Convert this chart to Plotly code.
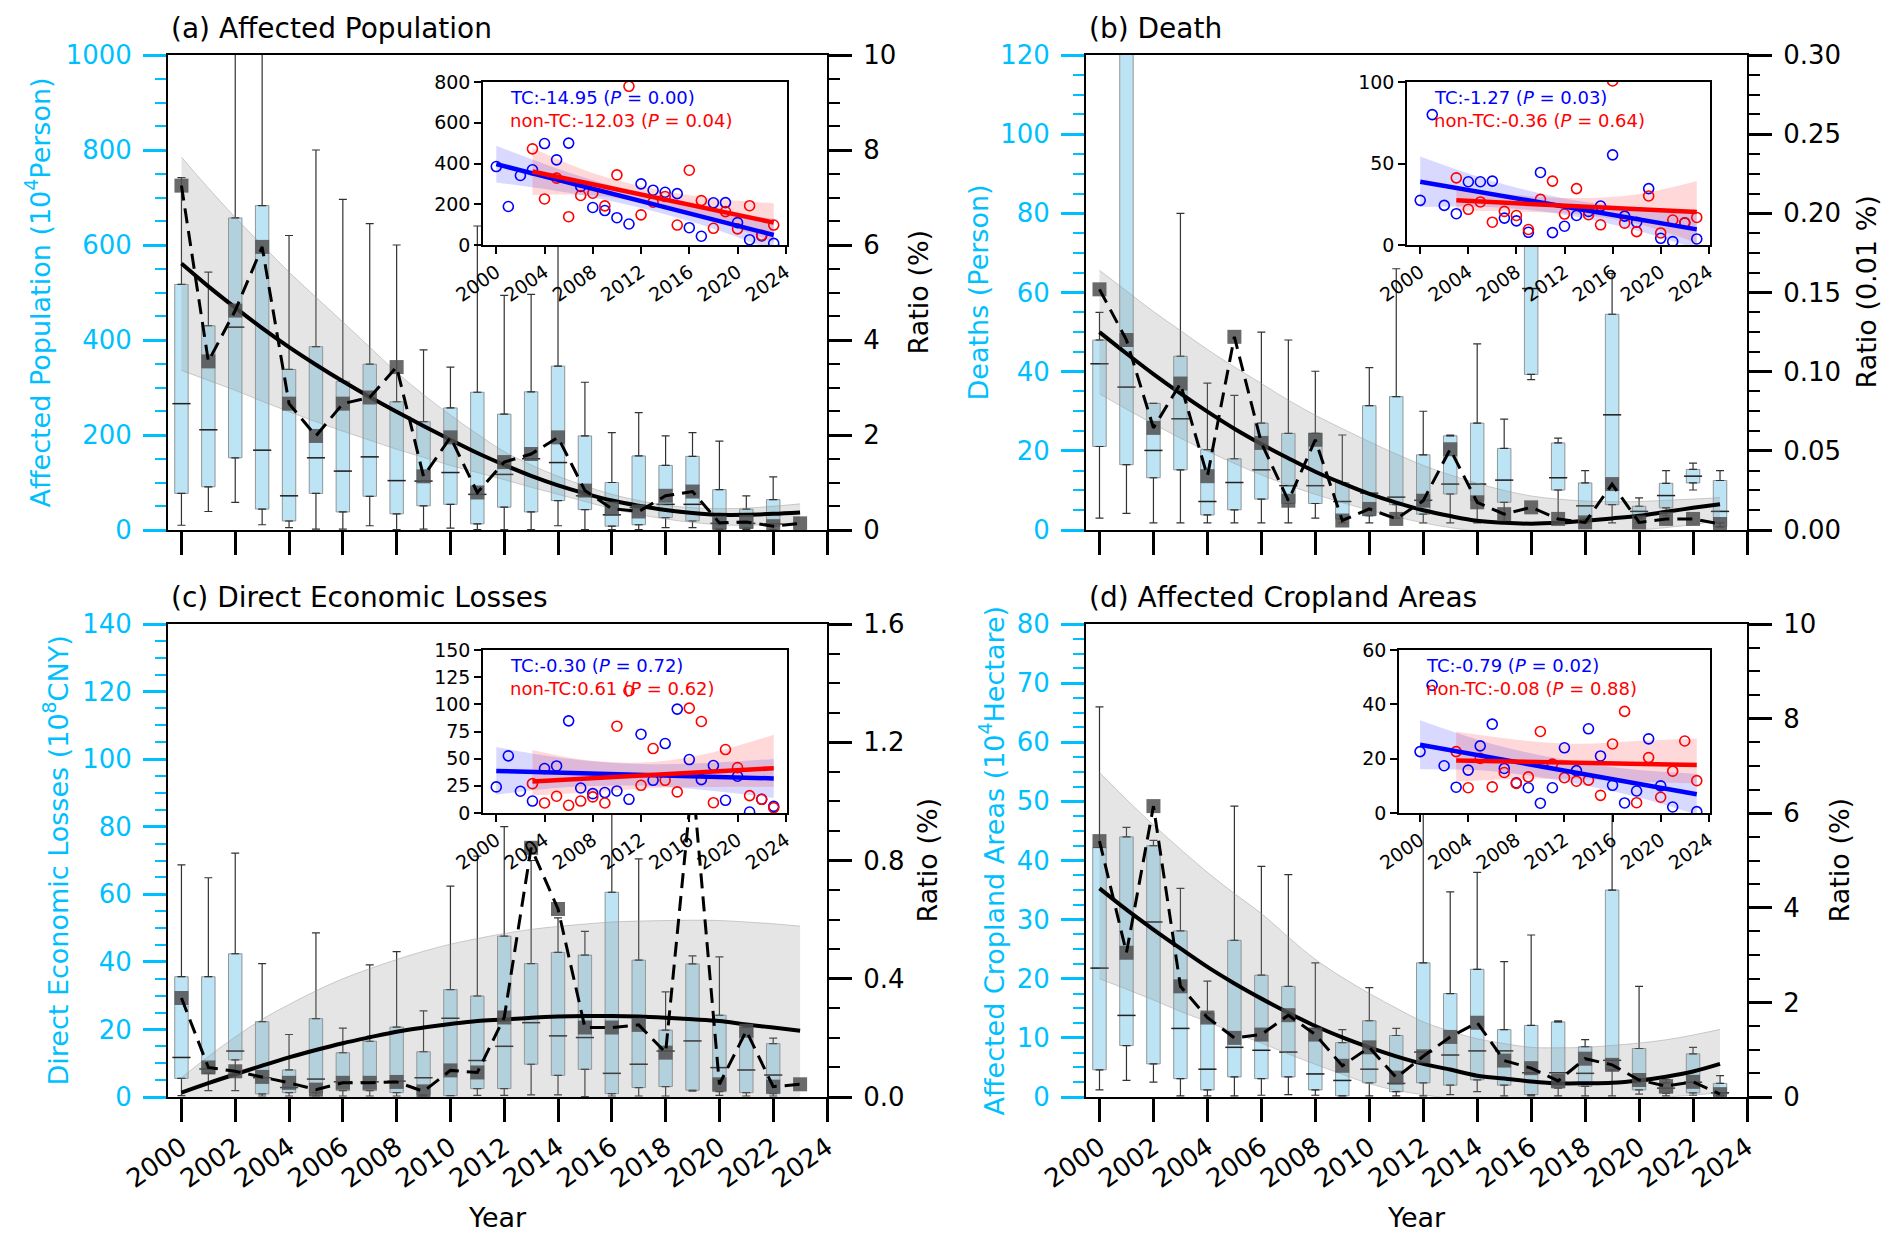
import plotly.graph_objects as go

W, H = 1892, 1244          # target canvas
PAGE_PAD = 8                # the page body margin the figure sits in
FIG_W, FIG_H = W - 2 * PAGE_PAD, H - 2 * PAGE_PAD

years = list(range(2000, 2024))
box_years_23 = list(range(2000, 2023))
box_years_24 = list(range(2000, 2024))
ntc_years = list(range(2003, 2024))

# ---------------- (a) Affected Population (10^4 person), ratio in % ----------------
a_low = [10, 39, 58, 11, 5, 2, 2, 9, 1, 2, 4, 1, 1, 1, 9, 1, 1, 1, 5, 5, 1, 1, 1]
a_q1 = [77, 91, 152, 44, 19, 77, 38, 71, 34, 51, 54, 13, 48, 38, 62, 43, 8, 11, 26, 19, 2, 4, 8]
a_med = [266, 211, 427, 168, 72, 152, 124, 154, 104, 103, 121, 75, 117, 150, 142, 72, 32, 47, 54, 54, 14, 14, 13]
a_q3 = [517, 430, 657, 683, 338, 386, 313, 349, 270, 228, 257, 290, 244, 291, 345, 198, 100, 156, 136, 155, 85, 44, 64]
a_high = [742, 543, 1100, 1100, 620, 800, 696, 645, 600, 379, 343, 640, 494, 496, 650, 311, 205, 247, 198, 205, 187, 72, 112]
a_ratio = [7.25, 3.55, 4.62, 5.96, 2.66, 1.98, 2.66, 2.79, 3.43, 1.13, 1.95, 0.79, 1.43, 1.60,
           1.95, 0.83, 0.45, 0.39, 0.72, 0.81, 0.15, 0.17, 0.08, 0.14]
a_fit = [5.61, 5.13, 4.68, 4.25, 3.85, 3.48, 3.13, 2.80, 2.49, 2.19, 1.90, 1.62, 1.37, 1.14,
         0.94, 0.77, 0.62, 0.51, 0.42, 0.36, 0.32, 0.32, 0.34, 0.37]
a_band_hi = [7.85, 7.20, 6.58, 6.00, 5.43, 4.90, 4.38, 3.85, 3.32, 2.85, 2.42, 2.02, 1.65, 1.37,
             1.13, 0.93, 0.75, 0.62, 0.52, 0.47, 0.45, 0.46, 0.50, 0.55]
a_band_lo = [3.36, 3.15, 2.94, 2.71, 2.49, 2.28, 2.08, 1.89, 1.70, 1.53, 1.36, 1.21, 1.06, 0.90,
             0.75, 0.60, 0.45, 0.33, 0.23, 0.16, 0.11, 0.10, 0.12, 0.15]

# ---------------- (b) Death (person), ratio in 0.01 % ----------------
b_low = [3.0, 4.2, 1.8, 1.8, 1.8, 1.8, 1.8, 1.8, 3.0, 1.8, 1.8, 3.0, 1.8, 1.8, 1.8, 1.8, 38, 1.8, 1.8, 1.8, 1.8, 3.6, 10.1, 1.8]
b_q1 = [21.1, 16.5, 13.2, 15.2, 3.8, 5.1, 7.8, 6.7, 6.7, 2.8, 3.6, 6.4, 4.0, 9.1, 7.4, 7.0, 39.3, 10.1, 2.8, 6.4, 2.8, 5.6, 11.9, 0.8]
b_med = [42, 36.1, 20.1, 28.1, 7.2, 12, 15.2, 11.2, 11.2, 7.2, 9.3, 8.3, 7.5, 11.6, 11.6, 12.6, 61, 13.2, 6.1, 29.1, 4.7, 8.7, 13.6, 4.7]
b_q3 = [48.0, 130, 32, 43.9, 20.3, 18, 27, 24.4, 24.4, 12, 31.4, 33.7, 19, 23.8, 27, 20.6, 85, 22, 11.9, 54.5, 6, 11.8, 15.3, 12.5]
b_high = [55, 140, 32, 80, 37.1, 34, 50, 48, 40.1, 24, 41, 66, 30, 24, 47, 28, 100, 23.2, 15, 64.8, 8.1, 15, 16.9, 15]
b_ratio = [0.152, 0.120, 0.0645, 0.0925, 0.034, 0.122, 0.055, 0.0185, 0.057, 0.006, 0.0133, 0.007,
           0.0185, 0.051, 0.0175, 0.010, 0.0143, 0.007, 0.0048, 0.029, 0.0048, 0.007, 0.007, 0.0038]
b_fit = [0.125, 0.1115, 0.0985, 0.0863, 0.0748, 0.064, 0.0543, 0.0453, 0.0368, 0.0295, 0.0228, 0.0173,
         0.0125, 0.0088, 0.0058, 0.0045, 0.004, 0.0045, 0.0058, 0.0073, 0.009, 0.0115, 0.014, 0.0163]
b_band_hi = [0.164, 0.151, 0.138, 0.126, 0.114, 0.103, 0.0925, 0.082, 0.0725, 0.064, 0.0558, 0.048,
             0.0408, 0.0348, 0.0295, 0.025, 0.0215, 0.0195, 0.0183, 0.0178, 0.018, 0.0188, 0.0195, 0.0205]
b_band_lo = [0.086, 0.0763, 0.067, 0.058, 0.0498, 0.042, 0.0348, 0.0283, 0.0225, 0.0173, 0.0125, 0.0083,
             0.0045, 0.0015, -0.0008, -0.002, -0.0025, -0.0023, -0.0015, -0.0008, 0.0, 0.0015, 0.0035, 0.0058]

# ---------------- (c) Direct Economic Losses (10^8 CNY), ratio in % ----------------
c_low = [0.4, 1.9, 1.9, 0.3, 0.3, 0.3, 0.3, 0.3, 0.3, 0.3, 0.4, 0.5, 0.5, 0.6, 0.6, 0.1, 0.3, 0.3, 0.3, 1.7, 0.5, 0.3, 0.3]
c_q1 = [5.5, 7, 11, 0.9, 1.3, 1.3, 1.9, 1.9, 1.3, 0.6, 0.4, 2.5, 2.5, 9.7, 6.4, 8.2, 1.0, 2.8, 3.1, 2.0, 1.6, 1.3, 1.0]
c_med = [11.7, 8.3, 13.6, 5.7, 2.8, 5.3, 4.5, 4.5, 4.7, 5.7, 23.3, 10.8, 15, 22, 18.1, 17.6, 7.0, 9.7, 13.6, 16.6, 8.7, 8.0, 6.5]
c_q3 = [35.6, 35.6, 42.4, 22.3, 8, 23.2, 13.1, 16.5, 20.7, 13.4, 31.8, 29.9, 47.6, 39.5, 42.8, 42, 60.6, 40.5, 19.8, 39.4, 24.2, 20.6, 15.8]
c_high = [68.7, 64.9, 72.2, 39.5, 18.5, 48.6, 20.4, 39.1, 43, 25.5, 62.4, 71.3, 80, 70, 53, 49, 95, 70.5, 31.1, 41.8, 41.5, 21, 17.4]
c_ratio = [0.335, 0.10, 0.087, 0.068, 0.048, 0.025, 0.048, 0.048, 0.051, 0.019, 0.09, 0.083, 0.269,
           0.843, 0.636, 0.235, 0.235, 0.244, 0.150, 1.08, 0.043, 0.224, 0.035, 0.043]
c_fit = [0.015, 0.047, 0.077, 0.106, 0.134, 0.159, 0.182, 0.202, 0.221, 0.235, 0.247, 0.257,
         0.262, 0.268, 0.272, 0.274, 0.274, 0.272, 0.268, 0.263, 0.257, 0.245, 0.235, 0.224]
c_band_hi = [0.065, 0.137, 0.203, 0.263, 0.313, 0.359, 0.40, 0.434, 0.465, 0.493, 0.517, 0.536,
             0.553, 0.567, 0.577, 0.585, 0.592, 0.595, 0.597, 0.598, 0.597, 0.592, 0.586, 0.578]
c_band_lo = [-0.035, -0.04, -0.045, -0.05, -0.055, -0.06, -0.065, -0.07, -0.075, -0.08, -0.085, -0.09,
             -0.09, -0.09, -0.09, -0.09, -0.09, -0.09, -0.09, -0.09, -0.09, -0.09, -0.09, -0.09]

# ---------------- (d) Affected Cropland Areas (10^4 hectare), ratio in % ----------------
d_low = [1.2, 2.8, 2.5, 0.2, 0.2, 0.2, 0.3, 0.4, 0.3, 0.2, 0.2, 0.2, 0.2, 0.4, 0.9, 0.2, 0.2, 0.2, 0.2, 0.2, 0.5, 0.2, 0.3, 0.2]
d_q1 = [4.6, 8.7, 5.6, 3.1, 1.2, 3.4, 3.1, 3.4, 1.2, 0.2, 2.4, 0.9, 2.4, 2.0, 2.9, 2.0, 0.4, 1.5, 1.8, 4.6, 1.2, 0.6, 0.7, 0.3]
d_med = [21.8, 13.8, 29.6, 11.6, 4.7, 8.4, 7.9, 7.6, 3.9, 2.8, 4.7, 2.3, 7.6, 7.1, 7.8, 7.8, 4.1, 4.1, 4.0, 6.2, 2.7, 1.5, 2.5, 0.7]
d_q3 = [42.2, 44, 42.5, 28.1, 14.2, 26.5, 20.6, 18.7, 11.6, 9.2, 12.9, 10.4, 22.7, 17.5, 21.6, 11.4, 12.1, 12.7, 8.5, 35, 8.2, 2.4, 7.3, 2.3]
d_high = [66, 45.6, 43.4, 35.3, 19.6, 49.2, 39, 37.6, 22.7, 11.4, 18.5, 11.6, 55, 34.7, 38, 22.9, 27.4, 12.9, 9.7, 55, 18.7, 3.0, 8.4, 3.6]
d_ratio = [5.41, 3.05, 6.15, 2.34, 1.68, 1.25, 1.32, 1.73, 1.32, 0.66, 1.05, 0.41, 0.86, 1.27,
           1.57, 0.77, 0.61, 0.34, 0.81, 0.68, 0.36, 0.23, 0.32, 0.06]
d_fit = [4.41, 3.96, 3.54, 3.14, 2.75, 2.40, 2.08, 1.78, 1.50, 1.26, 1.05, 0.86, 0.70, 0.58,
         0.45, 0.39, 0.33, 0.29, 0.29, 0.30, 0.35, 0.43, 0.54, 0.70]
d_band_hi = [6.86, 6.29, 5.75, 5.24, 4.75, 4.30, 3.88, 3.38, 2.91, 2.53, 2.19, 1.88, 1.59, 1.39,
             1.23, 1.13, 1.05, 1.04, 1.05, 1.09, 1.14, 1.21, 1.31, 1.43]
d_band_lo = [2.50, 2.28, 2.05, 1.81, 1.59, 1.36, 1.14, 0.91, 0.69, 0.48, 0.28, 0.14, 0.05, -0.03,
             -0.06, -0.09, -0.10, -0.10, -0.09, -0.06, -0.04, 0.0, 0.04, 0.09]

# ---------------- insets: TC (2000-2023) and non-TC (2003-2023) ----------------
ia_tc = [385, 189, 341, 369, 498, 418, 500, 287, 184, 169, 134, 103, 300, 269, 259, 252, 85, 43, 207, 208, 110, 26, 45, 8]
ia_ntc = [472, 226, 328, 139, 243, 254, 192, 344, 779, 148, 210, 238, 98, 367, 218, 82, 164, 79, 193, 48, 98]
ib_tc = [27.4, 80, 24.3, 19.2, 38.8, 38.8, 39.2, 16.5, 14.8, 7.8, 44.5, 7.6, 11.5, 18.1, 20.6, 23.9, 55.3, 17.7, 14, 34.6, 4.1, 2.1, 13.6, 3.7]
ib_ntc = [41.2, 21.9, 26.4, 14, 20.6, 18.1, 9.5, 28, 39.2, 19, 34.6, 18.6, 12.4, 100.6, 13.4, 8.2, 30.1, 7.4, 15.3, 13.6, 16.9]
ic_tc = [24, 52.6, 20, 11, 40.9, 43.3, 84.8, 23, 17.8, 18.8, 20.3, 12.6, 72.5, 30.1, 63.9, 95.6, 49.2, 30.7, 43.7, 11.7, 33.8, 0.9, 12.6, 6.1]
ic_ntc = [27, 9.2, 15.4, 7.1, 11, 14.8, 9.2, 79.9, 112.5, 25.5, 59.3, 30.1, 19.4, 96.5, 84.2, 9.5, 58.4, 41.8, 16, 12.6, 4.9]
id_tc = [22.6, 47, 17.4, 9.5, 15.8, 24.7, 32.7, 16.4, 11.1, 9.3, 3.6, 9.3, 24, 15.6, 31, 21, 10.2, 3.7, 8.1, 27.3, 10, 2.2, None, 0.5]
id_ntc = [22.6, 9.3, 20.1, 9.6, 14.9, 10.9, 13.3, 30, 18, 13, 11.7, 12.1, 6.5, 25.4, 37.4, 3.8, 20.4, 5.8, 15.4, 26.5, 11.9]

# regression line end values
tc_line_years = [2000, 2023]
ntc_line_years = [2003, 2023]
ia_tc_line, ia_ntc_line = [397, 49], [361, 110]
ib_tc_line, ib_ntc_line = [38.8, 9.6], [27.4, 20.2]
ic_tc_line, ic_ntc_line = [38.7, 31.8], [29, 41.2]
id_tc_line, id_ntc_line = [25.1, 6.9], [19.3, 17.7]

# confidence bands of the regressions
tc_band_years = [2000, 2006, 2012, 2018, 2023]
ntc_band_years = [2003, 2008, 2013, 2018, 2023]
ia_tc_hi, ia_tc_lo = [487, 356, 251, 170, 130], [307, 256, 181, 80, -30]
ia_ntc_hi, ia_ntc_lo = [476, 353, 276, 228, 205], [246, 243, 196, 118, 15]
ib_tc_hi, ib_tc_lo = [54.3, 39.2, 28.6, 22.9, 21.6], [23.3, 23.2, 18.6, 8.9, -2.4]
ib_ntc_hi, ib_ntc_lo = [33.8, 30.6, 28.8, 31, 39.2], [21, 20.6, 18.8, 13, 1.2]
ic_tc_hi, ic_tc_lo = [60.7, 49.9, 45.1, 46.3, 49.8], [16.7, 23.9, 25.1, 20.3, 13.8]
ic_ntc_hi, ic_ntc_lo = [58, 48, 47, 56, 72], [16, 19, 23, 24, 24]
id_tc_hi, id_tc_lo = [34.1, 25.4, 19.6, 15.9, 14.4], [16.1, 15.4, 11.6, 5.9, -0.6]
id_ntc_hi, id_ntc_lo = [30, 27, 25.5, 26.5, 27.4], [11.5, 12.5, 12.5, 11.5, 10.9]

titles = ['(a) Affected Population', '(b) Death', '(c) Direct Economic Losses', '(d) Affected Cropland Areas']
left_titles = ['Affected Population (10<sup>4</sup>Person)', 'Deaths (Person)',
               'Direct Economic Losses (10<sup>8</sup>CNY)', 'Affected Cropland Areas (10<sup>4</sup>Hectare)']
right_titles = ['Ratio (%)', 'Ratio (0.01 %)', 'Ratio (%)', 'Ratio (%)']
tc_texts = ['TC:-14.95 (<i>P</i> = 0.00)', 'TC:-1.27 (<i>P</i> = 0.03)',
            'TC:-0.30 (<i>P</i> = 0.72)', 'TC:-0.79 (<i>P</i> = 0.02)']
ntc_texts = ['non-TC:-12.03 (<i>P</i> = 0.04)', 'non-TC:-0.36 (<i>P</i> = 0.64)',
             'non-TC:0.61 (<i>P</i> = 0.62)', 'non-TC:-0.08 (<i>P</i> = 0.88)']

# ---------------- styling / geometry (pixels of the 1892x1244 canvas) ----------------
FONT = 'DejaVu Sans'
CYAN = '#00BFFF'
BOX_FILL = 'rgba(135,206,235,0.55)'
BOX_EDGE = 'rgba(120,120,120,0.75)'
WHISK = '#333333'
SQ = 'rgba(80,80,80,0.85)'
BAND_FILL = 'rgba(150,150,150,0.25)'
BAND_EDGE = 'rgba(150,150,150,0.45)'

MAIN_X = [(168, 827), (1086, 1747), (168, 827), (1086, 1747)]
MAIN_Y = [(55, 530), (55, 530), (624, 1097), (624, 1097)]
INSET_X = [(483, 787), (1407, 1710), (483, 787), (1399, 1710)]
INSET_Y = [(82, 245), (82, 245), (650, 813), (650, 813)]
INSET_XR = [[1998.9, 2024.1], [1998.9, 2024.1], [1998.9, 2024.1], [1998.25, 2024.1]]

LEFT_R = [[0, 1000], [0, 120], [0, 140], [0, 80]]
LEFT_DT = [200, 20, 20, 10]
LEFT_MINOR = [50, 5, 5, 2.5]
RIGHT_R = [[0, 10], [0, 0.30], [0, 1.6], [0, 10]]
RIGHT_DT = [2, 0.05, 0.4, 2]
RIGHT_MINOR = [0.5, 0.0125, 0.1, 0.5]
RIGHT_FMT = ['d', '.2f', '.1f', 'd']
INSET_YR = [[0, 800], [0, 100], [0, 150], [0, 60]]
INSET_DT = [200, 50, 25, 20]

LEFT_TX = [38, 978, 56, 992]
RIGHT_TX = [918, 1866, 927, 1839]


def fx(p):
    return (p - PAGE_PAD) / FIG_W


def fy(p):
    return 1 - (p - PAGE_PAD) / FIG_H


def ax(name, i):
    return name if i == 1 else f'{name}{i}'


fig = go.Figure()

panels = [
    (box_years_23, a_low, a_q1, a_med, a_q3, a_high, a_ratio, a_fit, a_band_lo, a_band_hi),
    (box_years_24, b_low, b_q1, b_med, b_q3, b_high, b_ratio, b_fit, b_band_lo, b_band_hi),
    (box_years_23, c_low, c_q1, c_med, c_q3, c_high, c_ratio, c_fit, c_band_lo, c_band_hi),
    (box_years_24, d_low, d_q1, d_med, d_q3, d_high, d_ratio, d_fit, d_band_lo, d_band_hi),
]

for i, (bx, low, q1, med, q3, high, ratio, fit, blo, bhi) in enumerate(panels, start=1):
    xa, ya, yr = ax('x', i), ax('y', i), f'y{i + 4}'
    common = dict(xaxis=xa, showlegend=False, hoverinfo='skip')

    # whiskers as error bars from the box edges
    fig.add_trace(go.Scatter(
        x=bx, y=q3, mode='markers', marker=dict(size=1, opacity=0), yaxis=ya,
        error_y=dict(type='data', symmetric=False, array=[h - q for h, q in zip(high, q3)],
                     arrayminus=[0] * len(bx), color=WHISK, thickness=1.2, width=4),
        **common))
    fig.add_trace(go.Scatter(
        x=bx, y=q1, mode='markers', marker=dict(size=1, opacity=0), yaxis=ya,
        error_y=dict(type='data', symmetric=False, array=[0] * len(bx),
                     arrayminus=[q - l for q, l in zip(q1, low)], color=WHISK, thickness=1.2, width=4),
        **common))
    # boxes
    fig.add_trace(go.Box(
        x=bx, q1=q1, median=med, q3=q3, lowerfence=q1, upperfence=q3,
        width=0.5, fillcolor=BOX_FILL, line=dict(color=BOX_EDGE, width=1),
        boxpoints=False, yaxis=ya, **common))
    # medians
    fig.add_trace(go.Scatter(
        x=bx, y=med, mode='markers', yaxis=ya,
        marker=dict(symbol='line-ew', size=13, line=dict(color='#222222', width=1.5)),
        **common))

    # quadratic fit and its confidence band (ratio axis)
    fig.add_trace(go.Scatter(x=years, y=blo, mode='lines', yaxis=yr,
                             line=dict(color=BAND_EDGE, width=1, shape='spline'), **common))
    fig.add_trace(go.Scatter(x=years, y=bhi, mode='lines', yaxis=yr, fill='tonexty',
                             fillcolor=BAND_FILL,
                             line=dict(color=BAND_EDGE, width=1, shape='spline'), **common))
    fig.add_trace(go.Scatter(x=years, y=fit, mode='lines', yaxis=yr,
                             line=dict(color='black', width=4, shape='spline'), **common))
    # ratio series
    fig.add_trace(go.Scatter(x=years, y=ratio, mode='markers', yaxis=yr,
                             marker=dict(symbol='square', size=14, color=SQ), **common))
    fig.add_trace(go.Scatter(x=years, y=ratio, mode='lines', yaxis=yr,
                             line=dict(color='black', width=3, dash='15px,8px'), **common))

insets = [
    (ia_tc, ia_ntc, ia_tc_line, ia_ntc_line, ia_tc_hi, ia_tc_lo, ia_ntc_hi, ia_ntc_lo),
    (ib_tc, ib_ntc, ib_tc_line, ib_ntc_line, ib_tc_hi, ib_tc_lo, ib_ntc_hi, ib_ntc_lo),
    (ic_tc, ic_ntc, ic_tc_line, ic_ntc_line, ic_tc_hi, ic_tc_lo, ic_ntc_hi, ic_ntc_lo),
    (id_tc, id_ntc, id_tc_line, id_ntc_line, id_tc_hi, id_tc_lo, id_ntc_hi, id_ntc_lo),
]

for i, (tc, ntc, tcl, ntcl, tch, tcl_lo, ntch, ntcl_lo) in enumerate(insets, start=1):
    common = dict(xaxis=f'x{i + 4}', yaxis=f'y{i + 8}', showlegend=False, hoverinfo='skip')
    fig.add_trace(go.Scatter(x=tc_band_years, y=tcl_lo, mode='lines',
                             line=dict(width=0, shape='spline'), **common))
    fig.add_trace(go.Scatter(x=tc_band_years, y=tch, mode='lines', fill='tonexty',
                             fillcolor='rgba(0,0,255,0.15)', line=dict(width=0, shape='spline'), **common))
    fig.add_trace(go.Scatter(x=ntc_band_years, y=ntcl_lo, mode='lines',
                             line=dict(width=0, shape='spline'), **common))
    fig.add_trace(go.Scatter(x=ntc_band_years, y=ntch, mode='lines', fill='tonexty',
                             fillcolor='rgba(255,0,0,0.15)', line=dict(width=0, shape='spline'), **common))
    fig.add_trace(go.Scatter(x=years, y=tc, mode='markers',
                             marker=dict(symbol='circle-open', size=10, color='blue', line=dict(width=1.6)),
                             **common))
    fig.add_trace(go.Scatter(x=ntc_years, y=ntc, mode='markers',
                             marker=dict(symbol='circle-open', size=10, color='red', line=dict(width=1.6)),
                             **common))
    fig.add_trace(go.Scatter(x=tc_line_years, y=tcl, mode='lines',
                             line=dict(color='blue', width=4.5), **common))
    fig.add_trace(go.Scatter(x=ntc_line_years, y=ntcl, mode='lines',
                             line=dict(color='red', width=4.5), **common))

layout = dict(
    width=FIG_W, height=FIG_H, margin=dict(l=0, r=0, t=0, b=0, autoexpand=False),
    paper_bgcolor='white', plot_bgcolor='white',
    font=dict(family=FONT, size=26, color='black'),
    boxmode='overlay', showlegend=False,
)

annotations = []
for k in range(4):
    i = k + 1
    x0, x1 = MAIN_X[k]
    y0, y1 = MAIN_Y[k]
    layout[ax('xaxis', i)] = dict(
        domain=[fx(x0), fx(x1)], anchor=ax('y', i), range=[1999.5, 2024],
        tickvals=list(range(2000, 2025, 2)), ticks='outside', ticklen=23, tickwidth=2.5,
        tickcolor='black', showline=True, linecolor='black', linewidth=2, mirror=True,
        showgrid=False, zeroline=False, showticklabels=(i >= 3), tickangle=-35,
        tickfont=dict(size=26, color='black'), automargin=False)
    layout[ax('yaxis', i)] = dict(
        domain=[fy(y1), fy(y0)], anchor=ax('x', i), range=LEFT_R[k], dtick=LEFT_DT[k],
        ticks='outside', ticklen=23, tickwidth=2.5, tickcolor=CYAN, ticklabelstandoff=6,
        tickfont=dict(size=26, color=CYAN), automargin=False,
        minor=dict(dtick=LEFT_MINOR[k], ticks='outside', ticklen=11, tickwidth=2, tickcolor=CYAN),
        showline=True, linecolor='black', linewidth=2, mirror=True, showgrid=False, zeroline=False)
    layout[f'yaxis{i + 4}'] = dict(
        overlaying=ax('y', i), anchor=ax('x', i), side='right', range=RIGHT_R[k], dtick=RIGHT_DT[k],
        tickformat=RIGHT_FMT[k], ticks='outside', ticklen=23, tickwidth=2.5, tickcolor='black',
        ticklabelstandoff=6, tickfont=dict(size=26, color='black'), automargin=False,
        minor=dict(dtick=RIGHT_MINOR[k], ticks='outside', ticklen=11, tickwidth=2, tickcolor='black'),
        showline=True, linecolor='black', linewidth=2, showgrid=False, zeroline=False)

    ix0, ix1 = INSET_X[k]
    iy0, iy1 = INSET_Y[k]
    layout[f'xaxis{i + 4}'] = dict(
        domain=[fx(ix0), fx(ix1)], anchor=f'y{i + 8}', range=INSET_XR[k],
        tickvals=list(range(2000, 2025, 4)), ticks='outside', ticklen=7, tickwidth=1.5,
        tickcolor='black', showline=True, linecolor='black', linewidth=1.5, mirror=True,
        showgrid=False, zeroline=False, tickangle=-35, tickfont=dict(size=19, color='black'),
        automargin=False)
    layout[f'yaxis{i + 8}'] = dict(
        domain=[fy(iy1), fy(iy0)], anchor=f'x{i + 4}', range=INSET_YR[k], dtick=INSET_DT[k],
        ticks='outside', ticklen=7, tickwidth=1.5, tickcolor='black', showline=True,
        linecolor='black', linewidth=1.5, mirror=True, showgrid=False, zeroline=False,
        tickfont=dict(size=19, color='black'), automargin=False)

    ymid = (y0 + y1) / 2
    annotations += [
        dict(text=titles[k], x=fx(x0 + 1), y=fy(y0 - 27), xref='paper', yref='paper',
             xanchor='left', yanchor='middle', showarrow=False, font=dict(size=28)),
        dict(text=left_titles[k], x=fx(LEFT_TX[k]), y=fy(ymid), xref='paper', yref='paper',
             textangle=-90, xanchor='center', yanchor='middle', showarrow=False,
             font=dict(size=27, color=CYAN)),
        dict(text=right_titles[k], x=fx(RIGHT_TX[k]), y=fy(ymid), xref='paper', yref='paper',
             textangle=-90, xanchor='center', yanchor='middle', showarrow=False,
             font=dict(size=27, color='black')),
        dict(text=tc_texts[k], x=fx(ix0 + 25), y=fy(iy0 + 15), xref='paper', yref='paper',
             xanchor='left', yanchor='middle', showarrow=False, font=dict(size=18, color='blue')),
        dict(text=ntc_texts[k], x=fx(ix0 + 25), y=fy(iy0 + 38), xref='paper', yref='paper',
             xanchor='left', yanchor='middle', showarrow=False, font=dict(size=18, color='red')),
    ]
    if i >= 3:
        annotations.append(dict(text='Year', x=fx((x0 + x1) / 2), y=fy(1217), xref='paper',
                                yref='paper', xanchor='center', yanchor='middle',
                                showarrow=False, font=dict(size=27)))

layout['annotations'] = annotations
fig.update_layout(**layout)

fig.write_html("out.html")
